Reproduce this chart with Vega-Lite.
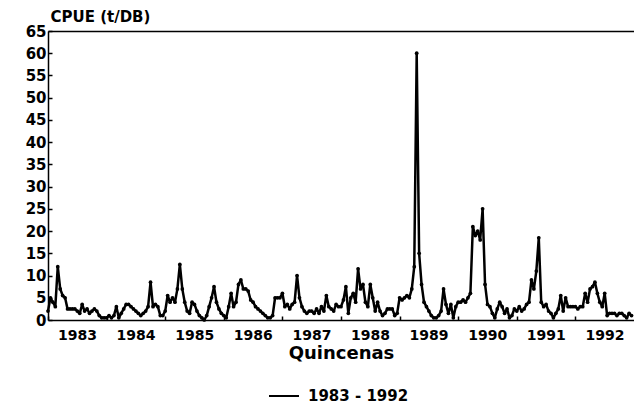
{
  "$schema": "https://vega.github.io/schema/vega-lite/v6.json",
  "autosize": "none",
  "padding": {"left": 48, "top": 31, "right": 0, "bottom": 89},
  "width": 586,
  "height": 289,
  "config": {
    "view": {"stroke": null},
    "font": "DejaVu Sans",
    "axis": {"domainColor": "black", "domainWidth": 1.5, "tickColor": "black", "tickWidth": 1.5, "labelColor": "black", "titleColor": "black", "grid": false, "labelFont": "DejaVu Sans", "labelFontWeight": "bold", "titleFont": "DejaVu Sans", "titleFontWeight": "bold"}
  },
  "resolve": {"axis": {"x": "independent"}},
  "data": {"values": [
    {"q":0,"v":2},{"q":1,"v":5},{"q":2,"v":4},{"q":3,"v":3},{"q":4,"v":12},{"q":5,"v":7},{"q":6,"v":5.5},{"q":7,"v":5},{"q":8,"v":2.5},{"q":9,"v":2.5},{"q":10,"v":2.5},{"q":11,"v":2.5},{"q":12,"v":2},{"q":13,"v":1.5},{"q":14,"v":3.5},{"q":15,"v":2},{"q":16,"v":2.5},{"q":17,"v":1.5},{"q":18,"v":2},{"q":19,"v":2.5},{"q":20,"v":2},{"q":21,"v":1},{"q":22,"v":0.5},{"q":23,"v":0.5},
    {"q":24,"v":0.5},{"q":25,"v":1},{"q":26,"v":0.5},{"q":27,"v":1},{"q":28,"v":3},{"q":29,"v":0.5},{"q":30,"v":1.5},{"q":31,"v":2.5},{"q":32,"v":3.5},{"q":33,"v":3.5},{"q":34,"v":3},{"q":35,"v":2.5},{"q":36,"v":2},{"q":37,"v":1.5},{"q":38,"v":1},{"q":39,"v":1.5},{"q":40,"v":2},{"q":41,"v":3},{"q":42,"v":8.5},{"q":43,"v":3},{"q":44,"v":3.5},{"q":45,"v":3},{"q":46,"v":1},{"q":47,"v":1},
    {"q":48,"v":2},{"q":49,"v":5.5},{"q":50,"v":4},{"q":51,"v":5},{"q":52,"v":4},{"q":53,"v":7},{"q":54,"v":12.5},{"q":55,"v":7},{"q":56,"v":4},{"q":57,"v":2},{"q":58,"v":1.5},{"q":59,"v":4},{"q":60,"v":3.5},{"q":61,"v":2},{"q":62,"v":1},{"q":63,"v":0.5},{"q":64,"v":0},{"q":65,"v":1},{"q":66,"v":3},{"q":67,"v":5},{"q":68,"v":7.5},{"q":69,"v":4},{"q":70,"v":2.5},{"q":71,"v":1.5},
    {"q":72,"v":1},{"q":73,"v":0.5},{"q":74,"v":3},{"q":75,"v":6},{"q":76,"v":3},{"q":77,"v":4},{"q":78,"v":8},{"q":79,"v":9},{"q":80,"v":7},{"q":81,"v":7},{"q":82,"v":6.5},{"q":83,"v":4.5},{"q":84,"v":4},{"q":85,"v":3},{"q":86,"v":2.5},{"q":87,"v":2},{"q":88,"v":1.5},{"q":89,"v":1},{"q":90,"v":0.5},{"q":91,"v":0.5},{"q":92,"v":1},{"q":93,"v":5},{"q":94,"v":5},{"q":95,"v":5},
    {"q":96,"v":6},{"q":97,"v":3},{"q":98,"v":3.5},{"q":99,"v":2.5},{"q":100,"v":3.5},{"q":101,"v":4},{"q":102,"v":10},{"q":103,"v":5},{"q":104,"v":3},{"q":105,"v":2},{"q":106,"v":1.5},{"q":107,"v":2},{"q":108,"v":2},{"q":109,"v":1.5},{"q":110,"v":2.5},{"q":111,"v":1.5},{"q":112,"v":3},{"q":113,"v":2},{"q":114,"v":5.5},{"q":115,"v":3},{"q":116,"v":2.5},{"q":117,"v":2},{"q":118,"v":3.5},{"q":119,"v":3},
    {"q":120,"v":3},{"q":121,"v":4.5},{"q":122,"v":7.5},{"q":123,"v":1.5},{"q":124,"v":5},{"q":125,"v":6},{"q":126,"v":4},{"q":127,"v":11.5},{"q":128,"v":7},{"q":129,"v":8},{"q":130,"v":4},{"q":131,"v":3},{"q":132,"v":8},{"q":133,"v":5},{"q":134,"v":2},{"q":135,"v":4},{"q":136,"v":2},{"q":137,"v":1},{"q":138,"v":1.5},{"q":139,"v":2.5},{"q":140,"v":2.5},{"q":141,"v":2.5},{"q":142,"v":1},{"q":143,"v":1.5},
    {"q":144,"v":5},{"q":145,"v":4.5},{"q":146,"v":5},{"q":147,"v":5.5},{"q":148,"v":5},{"q":149,"v":7},{"q":150,"v":12},{"q":151,"v":60},{"q":152,"v":15},{"q":153,"v":8},{"q":154,"v":4},{"q":155,"v":3},{"q":156,"v":2},{"q":157,"v":1},{"q":158,"v":0.5},{"q":159,"v":0.5},{"q":160,"v":1},{"q":161,"v":2},{"q":162,"v":7},{"q":163,"v":3.5},{"q":164,"v":1.5},{"q":165,"v":3.5},{"q":166,"v":0.5},{"q":167,"v":3},
    {"q":168,"v":4},{"q":169,"v":4},{"q":170,"v":4.5},{"q":171,"v":4},{"q":172,"v":5},{"q":173,"v":6},{"q":174,"v":21},{"q":175,"v":19},{"q":176,"v":20},{"q":177,"v":18},{"q":178,"v":25},{"q":179,"v":8},{"q":180,"v":3.5},{"q":181,"v":3},{"q":182,"v":1.5},{"q":183,"v":0.5},{"q":184,"v":2.5},{"q":185,"v":4},{"q":186,"v":3},{"q":187,"v":1.5},{"q":188,"v":2.5},{"q":189,"v":0.5},{"q":190,"v":1},{"q":191,"v":2.5},
    {"q":192,"v":2},{"q":193,"v":3},{"q":194,"v":2},{"q":195,"v":2.5},{"q":196,"v":3.5},{"q":197,"v":4},{"q":198,"v":9},{"q":199,"v":7},{"q":200,"v":11},{"q":201,"v":18.5},{"q":202,"v":4},{"q":203,"v":3},{"q":204,"v":3.5},{"q":205,"v":2},{"q":206,"v":1.5},{"q":207,"v":0.5},{"q":208,"v":1.5},{"q":209,"v":2.5},{"q":210,"v":5.5},{"q":211,"v":2},{"q":212,"v":5},{"q":213,"v":3},{"q":214,"v":3},{"q":215,"v":3},
    {"q":216,"v":3},{"q":217,"v":2.5},{"q":218,"v":3},{"q":219,"v":3},{"q":220,"v":6},{"q":221,"v":4},{"q":222,"v":7},{"q":223,"v":7.5},{"q":224,"v":8.5},{"q":225,"v":6},{"q":226,"v":4},{"q":227,"v":3},{"q":228,"v":6},{"q":229,"v":1},{"q":230,"v":1.5},{"q":231,"v":1.5},{"q":232,"v":1.5},{"q":233,"v":1},{"q":234,"v":1.5},{"q":235,"v":1.5},{"q":236,"v":1},{"q":237,"v":0.5},{"q":238,"v":1.5},{"q":239,"v":1}
  ]},
  "layer": [
    {
      "mark": {"type": "line", "strokeWidth": 2.5, "strokeJoin": "round"},
      "encoding": {
        "x": {"field": "q", "type": "quantitative", "scale": {"domain": [0, 240], "nice": false, "zero": false},
          "axis": {"orient": "bottom", "values": [0,24,48,72,96,120,144,168,192,216], "labelExpr": "'' + (1983 + datum.value / 24)", "labelOffset": 29, "labelFlush": false, "labelOverlap": false, "tickSize": -4, "labelPadding": 12, "labelFontSize": 14, "title": "Quincenas", "titleFontSize": 18, "titlePadding": 2}},
        "y": {"field": "v", "type": "quantitative", "scale": {"domain": [0, 65], "nice": false},
          "axis": {"values": [0,5,10,15,20,25,30,35,40,45,50,55,60,65], "labelOverlap": false, "labelFlush": false, "tickSize": -4, "labelPadding": 6, "labelFontSize": 15, "labelBaseline": "middle", "title": "CPUE (t/DB)", "titleAngle": 0, "titleAlign": "left", "titleBaseline": "alphabetic", "titleX": 2, "titleY": -10, "titleFontSize": 15}},
        "color": {"datum": "1983 - 1992", "scale": {"range": ["black"]},
          "legend": {"orient": "none", "legendX": 220, "legendY": 349, "title": null, "symbolType": "stroke", "symbolSize": 900, "symbolStrokeWidth": 2, "labelFont": "DejaVu Sans", "labelFontWeight": "bold", "labelFontSize": 15, "labelColor": "black", "labelOffset": 8}}
      }
    },
    {
      "mark": {"type": "point", "filled": true, "size": 14, "color": "black", "opacity": 1},
      "encoding": {
        "x": {"field": "q", "type": "quantitative", "axis": {"orient": "top", "labels": false, "ticks": false, "title": null, "domain": true}},
        "y": {"field": "v", "type": "quantitative",
          "axis": {"values": [0,5,10,15,20,25,30,35,40,45,50,55,60,65], "labelOverlap": false, "labelFlush": false, "tickSize": -4, "labelPadding": 6, "labelFontSize": 15, "labelBaseline": "middle", "title": "CPUE (t/DB)", "titleAngle": 0, "titleAlign": "left", "titleBaseline": "alphabetic", "titleX": 2, "titleY": -10, "titleFontSize": 15}}
      }
    }
  ]
}
